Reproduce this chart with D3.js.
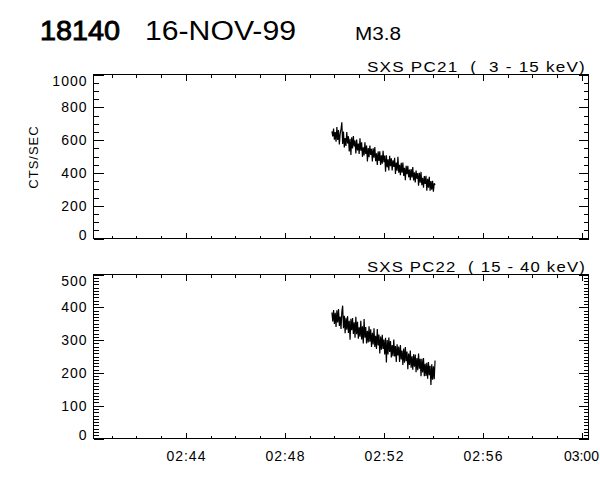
<!DOCTYPE html>
<html><head><meta charset="utf-8">
<script src="https://cdn.jsdelivr.net/npm/d3@7"></script>
<style>body{margin:0;background:#fff}svg{display:block}text{font-family:"Liberation Sans",Arial,sans-serif;fill:#000}</style>
</head><body>
<svg id="c" width="600" height="480"></svg>
<script>
// ---- data ----
const startTime = "1999-11-16T02:49:54Z";
const cadenceSec = 2;
const pc21 = [653,622,671,603,649,590,680,601,661,574,639,666,709,577,652,555,613,564,649,579,
  624,530,608,510,617,549,625,561,598,519,604,537,579,515,611,535,586,498,556,507,
  586,515,567,469,551,495,567,509,547,470,550,493,558,471,519,449,531,473,532,448,
  507,456,535,465,506,407,508,434,483,415,505,441,489,415,477,437,492,394,463,413,
  498,401,449,386,461,401,463,382,431,356,443,392,443,373,421,355,423,373,435,354,
  403,342,414,364,399,322,401,340,406,325,370,309,381,332,383,292,364,310,376,292,
  351,297,352,286,337,326];
const pc22 = [384,357,392,349,383,340,391,354,395,343,372,334,386,405,336,374,321,368,332,373,
  322,359,301,365,330,367,319,354,307,371,318,356,304,339,310,359,302,342,290,364,
  307,340,290,328,293,342,295,333,279,322,287,336,279,313,273,334,284,317,259,311,
  271,316,273,302,256,307,232,300,256,308,264,297,247,285,251,302,250,282,233,287,
  253,280,233,285,241,268,224,274,231,279,236,265,211,259,224,268,216,251,210,257,
  219,256,202,245,208,259,213,243,190,243,201,245,190,228,191,231,182,233,193,222,
  163,226,179,220,181,238];
const panelTitles = ["SXS PC21  (  3 - 15 keV)", "SXS PC22  ( 15 - 40 keV)"];
const yTicks21 = [0, 200, 400, 600, 800, 1000];
const yTicks22 = [0, 100, 200, 300, 400, 500];
const xTickLabels = ["02:44", "02:48", "02:52", "02:56", "03:00"];
const xDomain = ["1999-11-16T02:40:16Z", "1999-11-16T03:00:16Z"];
const headline = ["18140", "16-NOV-99", "M3.8"];
const yLabel = "CTS/SEC";

// ---- layout ----
const svg = d3.select("#c");
const L = 93.5, R = 588.5;
const panels = [
  {top: 74.5, bottom: 238.5, vals: pc21, ticks: yTicks21, minorStep: 50, title: panelTitles[0], showX: false},
  {top: 274.5, bottom: 438.5, vals: pc22, ticks: yTicks22, minorStep: 10, title: panelTitles[1], showX: true}
];
const day = "1999-11-16T";
const x = d3.scaleUtc().domain(xDomain.map(d => new Date(d))).range([L, R]);
const t0 = new Date(startTime).getTime();
const majorX = xTickLabels.map(s => new Date(day + s + ":00Z"));
const minorX = d3.utcMinute.range(x.domain()[0], x.domain()[1]);

// headline
svg.append("text").attr("x", 40).attr("y", 40).attr("font-size", 27)
  .attr("stroke", "#000").attr("stroke-width", 0.9)
  .attr("textLength", 80).attr("lengthAdjust", "spacingAndGlyphs").text(headline[0]);
svg.append("text").attr("x", 145).attr("y", 40).attr("font-size", 27)
  .attr("textLength", 151).attr("lengthAdjust", "spacingAndGlyphs").text(headline[1]);
svg.append("text").attr("x", 355).attr("y", 40).attr("font-size", 18)
  .attr("textLength", 46).attr("lengthAdjust", "spacingAndGlyphs").text(headline[2]);

// y label
svg.append("text").attr("transform", "translate(38,157) rotate(-90)").attr("text-anchor", "middle")
  .attr("font-size", 13).attr("letter-spacing", 1).text(yLabel);

panels.forEach(p => {
  const ymax = d3.max(p.ticks);
  const y = d3.scaleLinear().domain([0, ymax]).range([p.bottom, p.top]);
  const g = svg.append("g");
  const minorY = d3.range(0, ymax + 0.001, p.minorStep);

  // minor ticks
  const mk = (axis) => axis.tickFormat("").tickSizeOuter(0);
  g.append("g").attr("transform", `translate(${L},0)`).call(mk(d3.axisLeft(y).tickValues(minorY).tickSizeInner(-5)));
  g.append("g").attr("transform", `translate(${R},0)`).call(mk(d3.axisRight(y).tickValues(minorY).tickSizeInner(-5)));
  g.append("g").attr("transform", `translate(0,${p.bottom})`).call(mk(d3.axisBottom(x).tickValues(minorX).tickSizeInner(-3)));
  g.append("g").attr("transform", `translate(0,${p.top})`).call(mk(d3.axisTop(x).tickValues(minorX).tickSizeInner(-3)));

  // major ticks
  const la = g.append("g").attr("transform", `translate(${L},0)`)
    .call(d3.axisLeft(y).tickValues(p.ticks).tickFormat(d3.format("d")).tickSizeInner(-10).tickSizeOuter(0).tickPadding(6));
  la.selectAll("text").attr("font-size", 14).attr("letter-spacing", 1).attr("font-family", null)
    .attr("y", d => {const yy = y(d); return Math.min(Math.max(yy, p.top + 6.5), p.bottom - 3.5) - yy;});
  g.append("g").attr("transform", `translate(${R},0)`)
    .call(d3.axisRight(y).tickValues(p.ticks).tickFormat("").tickSizeInner(-10).tickSizeOuter(0));
  const ba = g.append("g").attr("transform", `translate(0,${p.bottom})`)
    .call(d3.axisBottom(x).tickValues(majorX).tickFormat(d3.utcFormat("%H:%M"))
      .tickSizeInner(-6).tickSizeOuter(0).tickPadding(13));
  ba.selectAll("text").attr("font-size", 14).attr("letter-spacing", 1).attr("font-family", null);
  ba.selectAll("text").filter((d, i, n) => i === n.length - 1).attr("letter-spacing", 0).attr("dx", -1);
  if (!p.showX) ba.selectAll("text").remove();
  g.append("g").attr("transform", `translate(0,${p.top})`)
    .call(d3.axisTop(x).tickValues(majorX).tickFormat("").tickSizeInner(-6).tickSizeOuter(0));

  g.selectAll(".domain").remove();
  g.selectAll(".tick line").attr("stroke", "#000").attr("shape-rendering", "crispEdges");

  // frame
  g.append("rect").attr("x", L).attr("y", p.top).attr("width", R - L).attr("height", p.bottom - p.top)
    .attr("fill", "none").attr("stroke", "#000").attr("shape-rendering", "crispEdges");

  // title
  g.append("text").attr("x", 586).attr("y", p.top - 3).attr("text-anchor", "end").attr("font-size", 14)
    .attr("letter-spacing", 1).attr("textLength", 219).attr("lengthAdjust", "spacingAndGlyphs")
    .style("white-space", "pre").text(p.title);

  // trace
  const line = d3.line().x((d, i) => x(new Date(t0 + i * cadenceSec * 1000))).y(d => y(d));
  g.append("path").datum(p.vals).attr("d", line).attr("fill", "none").attr("stroke", "#000")
    .attr("stroke-width", 1.2).attr("stroke-linejoin", "miter").attr("stroke-miterlimit", 2);
});
</script>
</body></html>
